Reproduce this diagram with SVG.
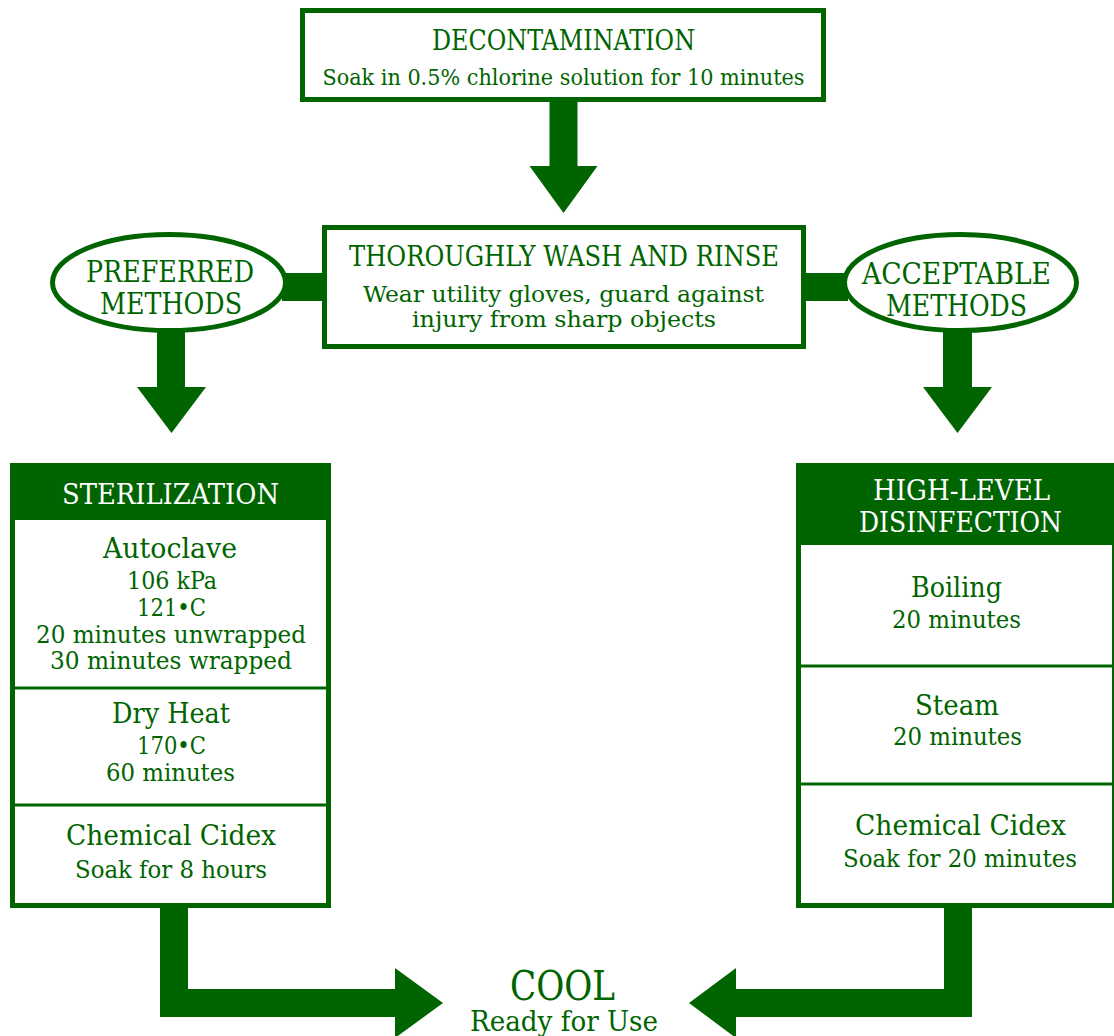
<svg xmlns="http://www.w3.org/2000/svg" width="1114" height="1036" viewBox="0 0 1114 1036">
<style>
.box{fill:#fff;stroke:#006400;stroke-width:5}
.div{stroke:#006400;stroke-width:3}
.hdr{fill:#006400}
.arr{fill:#006400}
text{font-family:'DejaVu Serif Condensed','DejaVu Serif',serif;font-stretch:condensed;fill:#006400;text-anchor:middle}
.w{fill:#fff}
.h{font-size:27px}
.s{font-size:23px}
.i{font-size:27px}
.b{font-size:24px}
</style>
<rect width="1114" height="1036" fill="#fff"/>
<g id="connectors">
<polygon class="arr" points="549.5,100 577.5,100 577.5,166 597.5,166 563.5,213 529.5,166 549.5,166"/>
<rect class="arr" x="282" y="273" width="44" height="28"/>
<rect class="arr" x="804" y="273" width="44" height="28"/>
<polygon class="arr" points="157,320 185,320 185,387 206,387 171.5,433 137,387 157,387"/>
<polygon class="arr" points="943,320 972,320 972,387 992,387 957.5,433 923,387 943,387"/>
<polygon class="arr" points="160,905 188,905 188,989 395,989 395,968 443,1003 395,1038 395,1017 160,1017"/>
<polygon class="arr" points="944,905 972,905 972,1017 736,1017 736,1038 689,1003 736,968 736,989 944,989"/>
</g>
<g id="decontamination">
<rect class="box" x="302.5" y="10.5" width="521" height="89"/>
<text class="h" x="563.5" y="50" textLength="263" lengthAdjust="spacingAndGlyphs">DECONTAMINATION</text>
<text class="s" x="563.5" y="85" textLength="482" lengthAdjust="spacingAndGlyphs">Soak in 0.5% chlorine solution for 10 minutes</text>
</g>
<g id="wash">
<rect class="box" x="324.5" y="227.5" width="479" height="119"/>
<text class="h" x="564" y="266" textLength="430" lengthAdjust="spacingAndGlyphs">THOROUGHLY WASH AND RINSE</text>
<text class="s" x="563.5" y="302" textLength="401" lengthAdjust="spacingAndGlyphs">Wear utility gloves, guard against</text>
<text class="s" x="564" y="327" textLength="304" lengthAdjust="spacingAndGlyphs">injury from sharp objects</text>
</g>
<g id="preferred">
<ellipse class="box" cx="169" cy="282.5" rx="116.5" ry="48"/>
<text style="font-size:29px" x="170" y="282" textLength="168" lengthAdjust="spacingAndGlyphs">PREFERRED</text>
<text style="font-size:29px" x="171" y="314" textLength="142" lengthAdjust="spacingAndGlyphs">METHODS</text>
</g>
<g id="acceptable">
<ellipse class="box" cx="960.5" cy="282.5" rx="116" ry="48"/>
<text style="font-size:29px" x="956.5" y="284" textLength="189" lengthAdjust="spacingAndGlyphs">ACCEPTABLE</text>
<text style="font-size:29px" x="956.5" y="316" textLength="141" lengthAdjust="spacingAndGlyphs">METHODS</text>
</g>
<g id="sterilization">
<rect class="box" x="12.5" y="465.5" width="316" height="440"/>
<rect class="hdr" x="10" y="463" width="321" height="57"/>
<line class="div" x1="12" y1="688" x2="329" y2="688"/>
<line class="div" x1="12" y1="805" x2="329" y2="805"/>
<text class="w" style="font-size:28px" x="170.5" y="504" textLength="217" lengthAdjust="spacingAndGlyphs">STERILIZATION</text>
<text class="i" x="170" y="558" textLength="134" lengthAdjust="spacingAndGlyphs">Autoclave</text>
<text class="b" x="172" y="589" textLength="90" lengthAdjust="spacingAndGlyphs">106 kPa</text>
<text class="b" x="171.5" y="616" textLength="69" lengthAdjust="spacingAndGlyphs">121•C</text>
<text class="b" x="171" y="643" textLength="270" lengthAdjust="spacingAndGlyphs">20 minutes unwrapped</text>
<text class="b" x="171" y="669" textLength="242" lengthAdjust="spacingAndGlyphs">30 minutes wrapped</text>
<text class="i" x="171" y="723" textLength="118" lengthAdjust="spacingAndGlyphs">Dry Heat</text>
<text class="b" x="171.5" y="754" textLength="69" lengthAdjust="spacingAndGlyphs">170•C</text>
<text class="b" x="170.5" y="781" textLength="129" lengthAdjust="spacingAndGlyphs">60 minutes</text>
<text class="i" x="171" y="845" textLength="210" lengthAdjust="spacingAndGlyphs">Chemical Cidex</text>
<text class="b" x="171" y="878" textLength="192" lengthAdjust="spacingAndGlyphs">Soak for 8 hours</text>
</g>
<g id="high-level-disinfection">
<rect class="box" x="798.5" y="465.5" width="316" height="440"/>
<rect class="hdr" x="796" y="463" width="320" height="82"/>
<line class="div" x1="798" y1="666" x2="1114" y2="666"/>
<line class="div" x1="798" y1="784" x2="1114" y2="784"/>
<text class="w" style="font-size:28px" x="961.5" y="500" textLength="177" lengthAdjust="spacingAndGlyphs">HIGH-LEVEL</text>
<text class="w" style="font-size:28px" x="960.5" y="532" textLength="203" lengthAdjust="spacingAndGlyphs">DISINFECTION</text>
<text class="i" x="956.5" y="597" textLength="91" lengthAdjust="spacingAndGlyphs">Boiling</text>
<text class="b" x="956.5" y="628" textLength="129" lengthAdjust="spacingAndGlyphs">20 minutes</text>
<text class="i" x="957" y="715" textLength="84" lengthAdjust="spacingAndGlyphs">Steam</text>
<text class="b" x="957.5" y="745" textLength="129" lengthAdjust="spacingAndGlyphs">20 minutes</text>
<text class="i" x="960.5" y="835" textLength="211" lengthAdjust="spacingAndGlyphs">Chemical Cidex</text>
<text class="b" x="960" y="867" textLength="234" lengthAdjust="spacingAndGlyphs">Soak for 20 minutes</text>
</g>
<g id="cool">
<text style="font-size:41px" x="562.5" y="1000" textLength="105" lengthAdjust="spacingAndGlyphs">COOL</text>
<text style="font-size:27px" x="564" y="1031" textLength="188" lengthAdjust="spacingAndGlyphs">Ready for Use</text>
</g>
</svg>
